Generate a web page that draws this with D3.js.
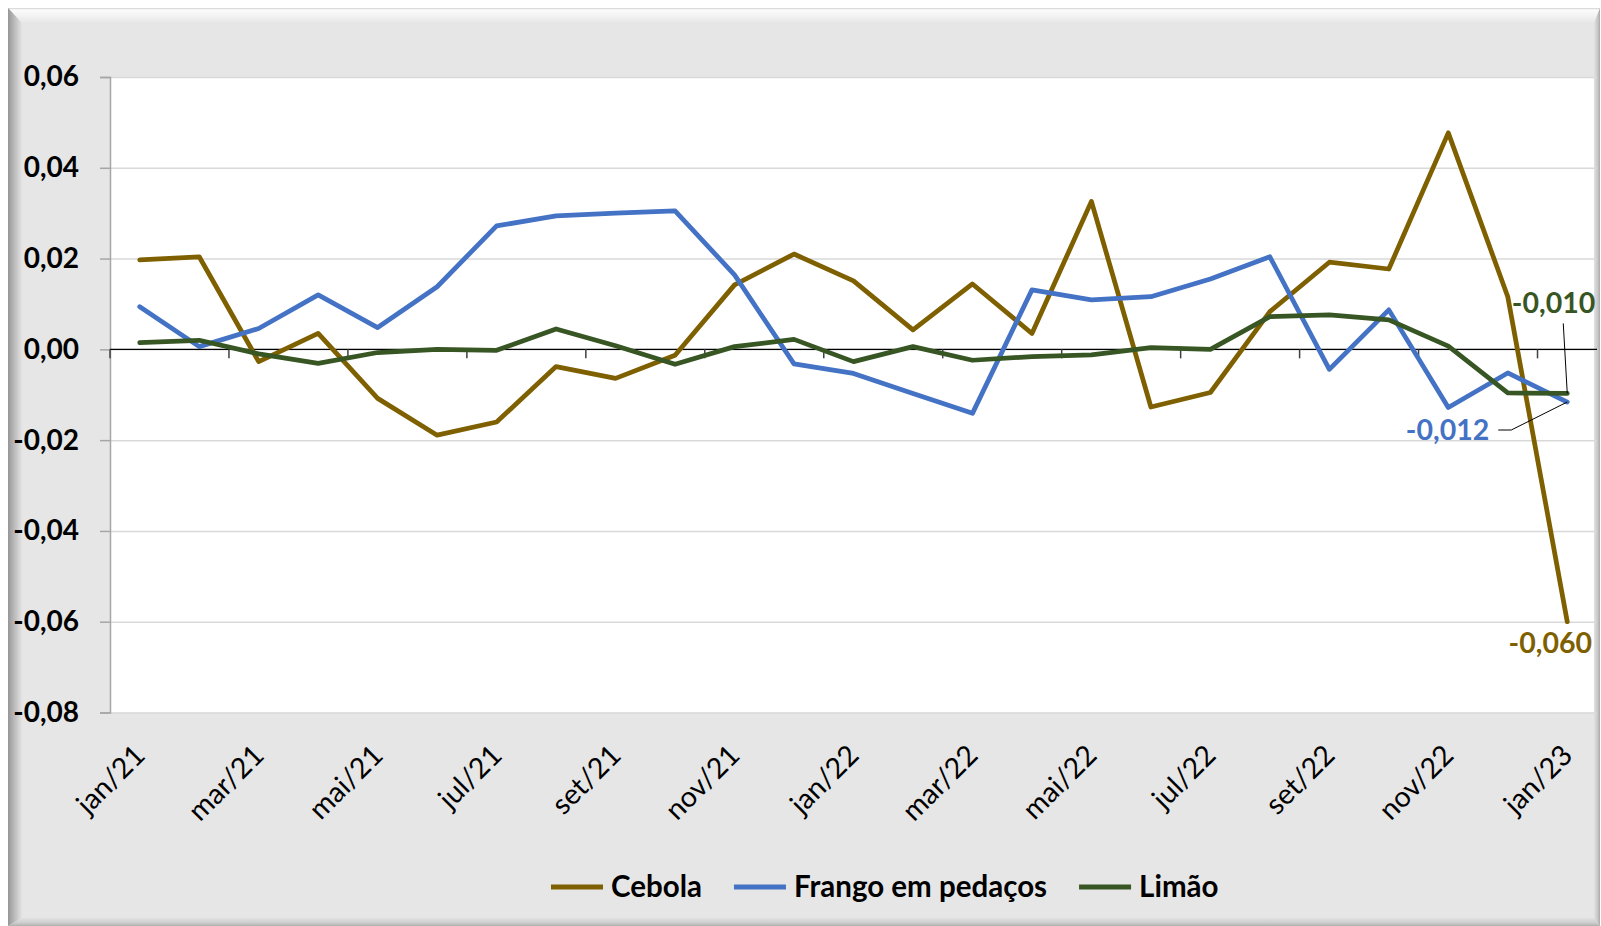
<!DOCTYPE html>
<html>
<head>
<meta charset="utf-8">
<script src="https://cdn.jsdelivr.net/npm/d3@7"></script>
<style>
  body { margin: 0; background: #ffffff; }
  text { font-family: Lato, "Open Sans", sans-serif; }
</style>
</head>
<body>
<div id="chart"></div>
<script>
// Months jan/21 .. jan/23
var months = ['jan/21', 'fev/21', 'mar/21', 'abr/21', 'mai/21', 'jun/21', 'jul/21', 'ago/21', 'set/21', 'out/21', 'nov/21', 'dez/21',
    'jan/22', 'fev/22', 'mar/22', 'abr/22', 'mai/22', 'jun/22', 'jul/22', 'ago/22', 'set/22', 'out/22', 'nov/22', 'dez/22', 'jan/23'];

var cebola = [0.0197, 0.0204, -0.0027, 0.0035, -0.0108, -0.0189, -0.0160, -0.0038, -0.0064, -0.0013, 0.0142, 0.0210,
    0.0151, 0.0043, 0.0144, 0.0035, 0.0326, -0.0127, -0.0095, 0.0083, 0.0192, 0.0177, 0.0477, 0.0116, -0.0600];

var frango = [0.0094, 0.0006, 0.0046, 0.0120, 0.0048, 0.0138, 0.0272, 0.0294, 0.0300, 0.0305, 0.0164, -0.0032,
    -0.0053, -0.0097, -0.0141, 0.0131, 0.0109, 0.0116, 0.0155, 0.0204, -0.0044, 0.0087, -0.0128, -0.0052, -0.0116];

var limao = [0.0015, 0.0020, -0.0010, -0.0031, -0.0007, 0.0000, -0.0002, 0.0045, 0.0008, -0.0033, 0.0006, 0.0022,
    -0.0027, 0.0006, -0.0024, -0.0016, -0.0012, 0.0004, 0.0000, 0.0072, 0.0076, 0.0065, 0.0007, -0.0096, -0.0097];

var series_names = ['Cebola', 'Frango em pedaços', 'Limão'];
var series_colors = ['#7f6000', '#4472c4', '#375623'];
var last_labels = ['-0,060', '-0,012', '-0,010'];
var y_ticks = [-0.08, -0.06, -0.04, -0.02, 0, 0.02, 0.04, 0.06];

var chart_width = 1601;
var chart_height = 926;
var plot = { left: 110, right: 1597, top: 77, bottom: 712.5 };

var svg = d3.select('#chart')
    .append('svg')
    .attr('width', chart_width)
    .attr('height', chart_height);

// Frame with bevel
var defs = svg.append('defs');
function grad(id, x2, y2, stops) {
    var g = defs.append('linearGradient').attr('id', id)
        .attr('x1', 0).attr('y1', 0).attr('x2', x2).attr('y2', y2);
    stops.forEach(function(s) {
        g.append('stop').attr('offset', s[0]).attr('stop-color', s[1]);
    });
}
grad('g-top', 0, 1, [[0, '#cfcfcf'], [0.12, '#fbfbfb'], [0.5, '#f3f3f3'], [1, '#e6e6e6']]);
grad('g-left', 1, 0, [[0, '#959595'], [0.15, '#a3a3a3'], [1, '#e4e4e4']]);
grad('g-right', 1, 0, [[0, '#e2e2e2'], [0.6, '#c8c8c8'], [1, '#a9a9a9']]);
grad('g-bottom', 0, 1, [[0, '#e2e2e2'], [0.6, '#cdcdcd'], [1, '#b0b0b0']]);

var fx0 = 8, fy0 = 8, fx1 = 1600, fy1 = 926;
var bl = 14, bt = 15, br = 6, bb = 8;

svg.append('rect')
    .attr('x', fx0).attr('y', fy0)
    .attr('width', fx1 - fx0).attr('height', fy1 - fy0)
    .attr('fill', '#e6e6e6');

var bevels = [
    ['g-top', [[fx0, fy0], [fx1, fy0], [fx1 - br, fy0 + bt], [fx0 + bl, fy0 + bt]]],
    ['g-left', [[fx0, fy0], [fx0 + bl, fy0 + bt], [fx0 + bl, fy1 - bb], [fx0, fy1]]],
    ['g-right', [[fx1, fy0], [fx1, fy1], [fx1 - br, fy1 - bb], [fx1 - br, fy0 + bt]]],
    ['g-bottom', [[fx0, fy1], [fx1, fy1], [fx1 - br, fy1 - bb], [fx0 + bl, fy1 - bb]]]
];
svg.selectAll('polygon.bevel')
    .data(bevels)
    .enter()
    .append('polygon')
    .attr('class', 'bevel')
    .attr('points', function(d) { return d[1].map(function(p) { return p.join(','); }).join(' '); })
    .attr('fill', function(d) { return 'url(#' + d[0] + ')'; });

// Plot area
svg.append('rect')
    .attr('x', plot.left).attr('y', plot.top)
    .attr('width', fx1 - br - plot.left).attr('height', plot.bottom - plot.top)
    .attr('fill', '#ffffff');

// Scales
var x_band = d3.scaleBand()
    .domain(months)
    .range([plot.left, plot.right]);
var bw = x_band.bandwidth();
function x_pos(i) { return x_band(months[i]) + bw / 2; }

var y_scale = d3.scaleLinear()
    .domain([-0.08, 0.06])
    .range([plot.bottom, plot.top]);

var fmt = function(d) { return d3.format('.2f')(d).replace('.', ',').replace('−', '-'); };

// Gridlines
svg.append('g')
    .attr('transform', 'translate(' + plot.left + ',0)')
    .call(d3.axisLeft(y_scale).tickValues(y_ticks).tickSize(-(plot.right - plot.left)).tickFormat(''))
    .call(function(g) {
        g.select('.domain').remove();
        g.selectAll('line').attr('stroke', '#d9d9d9').attr('stroke-width', 1.5);
    });

// Y axis
svg.append('g')
    .attr('transform', 'translate(' + plot.left + ',0)')
    .call(d3.axisLeft(y_scale).tickValues(y_ticks).tickSize(10).tickPadding(21).tickFormat(fmt))
    .call(function(g) {
        g.select('.domain').attr('stroke', '#a6a6a6').attr('stroke-width', 1.5);
        g.selectAll('line').attr('stroke', '#a6a6a6').attr('stroke-width', 1.5);
        g.selectAll('text')
            .attr('fill', '#000000')
            .attr('font-size', 28)
            .attr('font-weight', 'bold')
            .attr('font-family', 'Lato, "Open Sans", sans-serif');
    });

// Horizontal axis at zero
var y0 = y_scale(0);
svg.append('line')
    .attr('x1', plot.left).attr('x2', plot.right)
    .attr('y1', y0).attr('y2', y0)
    .attr('stroke', '#000000').attr('stroke-width', 1.2);

var tick_months = months.filter(function(d, i) { return i % 2 === 0; });
svg.selectAll('line.xtick')
    .data(tick_months)
    .enter()
    .append('line')
    .attr('class', 'xtick')
    .attr('x1', function(d) { return x_band(d); })
    .attr('x2', function(d) { return x_band(d); })
    .attr('y1', y0).attr('y2', y0 + 9)
    .attr('stroke', '#404040').attr('stroke-width', 1.5);

// Category labels (rotated)
svg.selectAll('text.xlab')
    .data(tick_months)
    .enter()
    .append('text')
    .attr('class', 'xlab')
    .text(function(d) { return d; })
    .attr('transform', function(d) {
        var x = x_band(d) + bw / 2 + 7;
        return 'translate(' + x + ',757) rotate(-45)';
    })
    .attr('text-anchor', 'end')
    .attr('font-size', 28.5)
    .attr('fill', '#000000');

// Lines
var all_series = [cebola, frango, limao];
var line = d3.line()
    .x(function(d, i) { return x_pos(i); })
    .y(function(d) { return y_scale(d); });

svg.selectAll('path.series')
    .data(all_series)
    .enter()
    .append('path')
    .attr('class', 'series')
    .attr('d', line)
    .attr('fill', 'none')
    .attr('stroke', function(d, i) { return series_colors[i]; })
    .attr('stroke-width', 4.75)
    .attr('stroke-linejoin', 'round')
    .attr('stroke-linecap', 'round');

// Last-point labels with leader lines
var n = months.length - 1;
var xl = x_pos(n);
var label_pos = [
    { dx: -17, dy: 31, anchor: 'middle' },
    { dx: -78, dy: 38, anchor: 'end' },
    { dx: 28, dy: -80, anchor: 'end' }
];
svg.selectAll('text.dlab')
    .data(all_series)
    .enter()
    .append('text')
    .attr('class', 'dlab')
    .text(function(d, i) { return last_labels[i]; })
    .attr('x', function(d, i) { return xl + label_pos[i].dx; })
    .attr('y', function(d, i) { return y_scale(d[n]) + label_pos[i].dy; })
    .attr('text-anchor', function(d, i) { return label_pos[i].anchor; })
    .attr('font-size', 28.5)
    .attr('font-weight', 'bold')
    .attr('fill', function(d, i) { return series_colors[i]; });

// leaders
var yf = y_scale(frango[n]);
var yl = y_scale(limao[n]);
svg.append('polyline')
    .attr('points', [[xl - 69, yf + 28], [xl - 56, yf + 28], [xl, yf]].map(function(p) { return p.join(','); }).join(' '))
    .attr('fill', 'none').attr('stroke', '#000000').attr('stroke-width', 1);
svg.append('line')
    .attr('x1', xl - 4).attr('y1', yl - 70)
    .attr('x2', xl).attr('y2', yl)
    .attr('stroke', '#000000').attr('stroke-width', 1);

// Legend
var legend_y = 887;
var lx = 551;
var legend = svg.append('g');
series_names.forEach(function(name, i) {
    legend.append('line')
        .attr('x1', lx).attr('x2', lx + 52)
        .attr('y1', legend_y).attr('y2', legend_y)
        .attr('stroke', series_colors[i])
        .attr('stroke-width', 5);
    var t = legend.append('text')
        .text(name)
        .attr('x', lx + 60)
        .attr('y', legend_y)
        .attr('dy', '0.35em')
        .attr('font-size', 29.5)
        .attr('font-weight', 'bold')
        .attr('fill', '#000000');
    lx = lx + 60 + t.node().getComputedTextLength() + 32;
});
</script>
</body>
</html>
